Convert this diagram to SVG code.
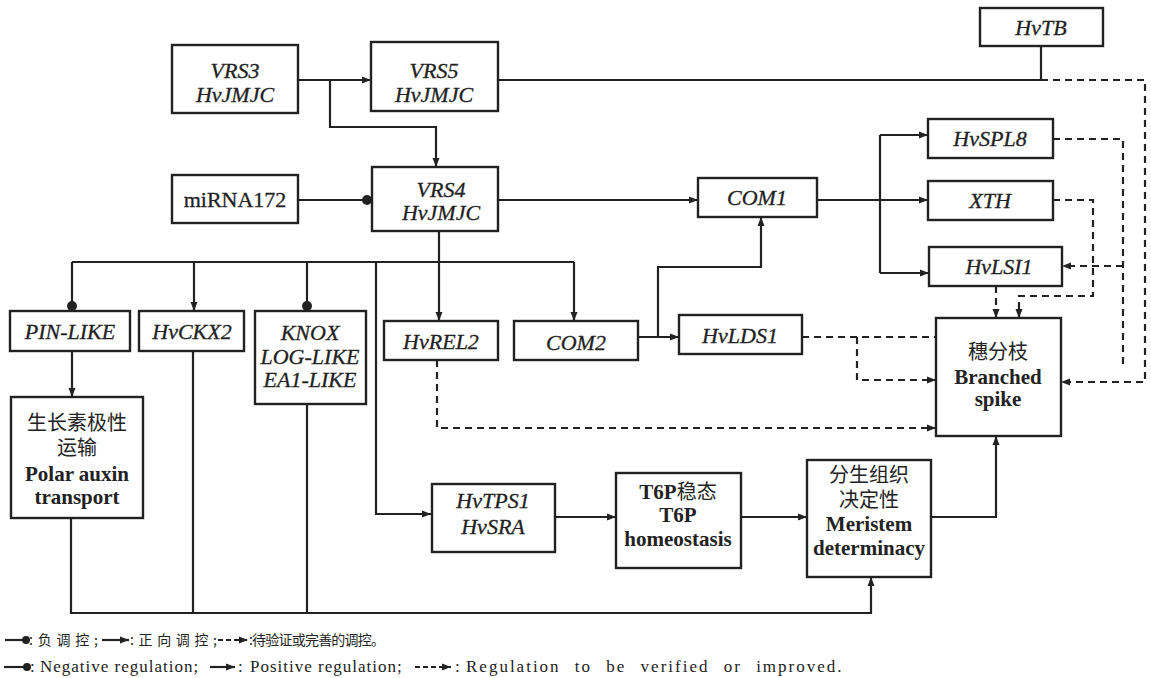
<svg xmlns="http://www.w3.org/2000/svg" width="1151" height="678" viewBox="0 0 1151 678">
<style>
.box{fill:#fff;stroke:#222;stroke-width:2.4}
.ln{fill:none;stroke:#222;stroke-width:2.2}
.ds{fill:none;stroke:#222;stroke-width:2.2;stroke-dasharray:7 5}
.g{font-family:'Liberation Serif',serif;font-style:italic;font-size:22px;text-anchor:middle;fill:#222;stroke:#222;stroke-width:0.3}
.r{font-family:'Liberation Serif',serif;font-size:22px;text-anchor:middle;fill:#222;stroke:#222;stroke-width:0.3}
.t{font-family:'Liberation Serif','Noto Sans CJK SC',serif;font-weight:bold;font-size:21px;text-anchor:middle;fill:#222}
.c{font-family:'Noto Sans CJK SC',sans-serif;font-size:20px;text-anchor:middle;fill:#222}
.cn{font-family:'Noto Sans CJK SC',sans-serif;font-weight:normal}
.lc{font-family:'Noto Sans CJK SC',sans-serif;font-size:14px;fill:#222}
.le{font-family:'Liberation Serif',serif;font-size:17px;letter-spacing:1px;fill:#222}
.dot{fill:#222}
</style>
<defs>
<marker id="ar" markerUnits="userSpaceOnUse" markerWidth="9" markerHeight="8" refX="9" refY="4" orient="auto">
<path d="M0,0.5 L9,4 L0,7.5 z" fill="#222"/>
</marker>
</defs>

<g id="connectors">
<path class="ln" d="M298,80 H371" marker-end="url(#ar)"/>
<path class="ln" d="M330,80 V127 H436 V167" marker-end="url(#ar)"/>
<path class="ln" d="M498,80 H1041"/>
<path class="ln" d="M1041,46 V80"/>
<path class="ds" d="M1041,80 H1145 V382 H1061" marker-end="url(#ar)"/>
<path class="ln" d="M298,200 H367"/>
<circle class="dot" cx="367" cy="200" r="5"/>
<path class="ln" d="M498,200 H698" marker-end="url(#ar)"/>
<path class="ln" d="M817,200 H928" marker-end="url(#ar)"/>
<path class="ln" d="M880,135 V273"/>
<path class="ln" d="M880,135 H928" marker-end="url(#ar)"/>
<path class="ln" d="M880,273 H929" marker-end="url(#ar)"/>
<path class="ln" d="M439,231 V321" marker-end="url(#ar)"/>
<path class="ln" d="M72,262 H574"/>
<path class="ln" d="M72,262 V306"/>
<circle class="dot" cx="72" cy="306" r="5"/>
<path class="ln" d="M194,262 V311" marker-end="url(#ar)"/>
<path class="ln" d="M307,262 V306"/>
<circle class="dot" cx="307" cy="306" r="5"/>
<path class="ln" d="M574,262 V321" marker-end="url(#ar)"/>
<path class="ln" d="M376,262 V514 H431" marker-end="url(#ar)"/>
<path class="ln" d="M72,351 V397" marker-end="url(#ar)"/>
<path class="ln" d="M71,518 V613 H871 V577" marker-end="url(#ar)"/>
<path class="ln" d="M193,351 V613"/>
<path class="ln" d="M307,404 V613"/>
<path class="ln" d="M638,337 H679" marker-end="url(#ar)"/>
<path class="ln" d="M658,337 V267 H761 V217" marker-end="url(#ar)"/>
<path class="ln" d="M555,517 H616" marker-end="url(#ar)"/>
<path class="ln" d="M741,517 H807" marker-end="url(#ar)"/>
<path class="ln" d="M931,517 H996 V436" marker-end="url(#ar)"/>
<path class="ds" d="M437,360 V428 H936" marker-end="url(#ar)"/>
<path class="ds" d="M802,337 H936"/>
<path class="ds" d="M857,337 V380 H936" marker-end="url(#ar)"/>
<path class="ds" d="M996,286 V318" marker-end="url(#ar)"/>
<path class="ds" d="M1053,200 H1093 V296 H1019 V318" marker-end="url(#ar)"/>
<path class="ds" d="M1053,139 H1123 V366"/>
<path class="ds" d="M1123,266 H1062" marker-end="url(#ar)"/>
</g>

<g id="VRS3"><rect class="box" x="172" y="45" width="126" height="68"/><text class="g" x="235" y="78">VRS3</text><text class="g" x="235" y="102">HvJMJC</text></g>
<g id="VRS5"><rect class="box" x="371" y="42" width="127" height="69"/><text class="g" x="434" y="78">VRS5</text><text class="g" x="434" y="102">HvJMJC</text></g>
<g id="HvTB"><rect class="box" x="980" y="8" width="123" height="38"/><text class="g" x="1041" y="35">HvTB</text></g>
<g id="miRNA172"><rect class="box" x="172" y="175" width="126" height="48"/><text class="r" x="235" y="207">miRNA172</text></g>
<g id="VRS4"><rect class="box" x="372" y="167" width="126" height="64"/><text class="g" x="441" y="197">VRS4</text><text class="g" x="441" y="220">HvJMJC</text></g>
<g id="COM1"><rect class="box" x="698" y="178" width="119" height="39"/><text class="g" x="757" y="205">COM1</text></g>
<g id="HvSPL8"><rect class="box" x="928" y="119" width="125" height="39"/><text class="g" x="990" y="146">HvSPL8</text></g>
<g id="XTH"><rect class="box" x="928" y="181" width="125" height="39"/><text class="g" x="990" y="208">XTH</text></g>
<g id="HvLSI1"><rect class="box" x="929" y="247" width="133" height="39"/><text class="g" x="999" y="274">HvLSI1</text></g>
<g id="PIN-LIKE"><rect class="box" x="10" y="311" width="120" height="40"/><text class="g" x="70" y="339">PIN-LIKE</text></g>
<g id="HvCKX2"><rect class="box" x="139" y="311" width="105" height="40"/><text class="g" x="192" y="339">HvCKX2</text></g>
<g id="KNOX"><rect class="box" x="255" y="311" width="111" height="93"/><text class="g" x="310" y="340">KNOX</text><text class="g" x="310" y="364">LOG-LIKE</text><text class="g" x="310" y="387">EA1-LIKE</text></g>
<g id="HvREL2"><rect class="box" x="384" y="321" width="114" height="39"/><text class="g" x="441" y="349">HvREL2</text></g>
<g id="COM2"><rect class="box" x="514" y="321" width="124" height="39"/><text class="g" x="576" y="350">COM2</text></g>
<g id="HvLDS1"><rect class="box" x="679" y="315" width="123" height="39"/><text class="g" x="740" y="343">HvLDS1</text></g>
<g id="BranchedSpike"><rect class="box" x="936" y="318" width="125" height="118"/><text class="c" x="998" y="359">穗分枝</text><text class="t" x="998" y="384">Branched</text><text class="t" x="998" y="406">spike</text></g>
<g id="Auxin"><rect class="box" x="11" y="397" width="132" height="121"/><text class="c" x="77" y="430">生长素极性</text><text class="c" x="77" y="455">运输</text><text class="t" x="77" y="481">Polar auxin</text><text class="t" x="77" y="504">transport</text></g>
<g id="HvTPS1"><rect class="box" x="432" y="484" width="123" height="68"/><text class="g" x="493" y="508">HvTPS1</text><text class="g" x="493" y="534">HvSRA</text></g>
<g id="T6P"><rect class="box" x="616" y="473" width="125" height="95"/><text class="t" x="678" y="499">T6P<tspan class="cn" style="font-size:20px">稳态</tspan></text><text class="t" x="678" y="522">T6P</text><text class="t" x="678" y="546">homeostasis</text></g>
<g id="Meristem"><rect class="box" x="807" y="460" width="124" height="117"/><text class="c" x="869" y="482">分生组织</text><text class="c" x="869" y="507">决定性</text><text class="t" x="869" y="531">Meristem</text><text class="t" x="869" y="555">determinacy</text></g>

<g id="legend">
<path class="ln" d="M5,640 H26"/><circle class="dot" cx="26" cy="640" r="4"/>
<text class="lc" x="29" y="645" textLength="69" lengthAdjust="spacing">:负调控;</text>
<path class="ln" d="M102,640 H129" marker-end="url(#ar)"/>
<text class="lc" x="130" y="645" textLength="87" lengthAdjust="spacing">:正向调控;</text>
<path class="ds" d="M218,640 H248" style="stroke-dasharray:5 3" marker-end="url(#ar)"/>
<text class="lc" x="249" y="645" textLength="136" lengthAdjust="spacing">:待验证或完善的调控。</text>
<path class="ln" d="M4,667 H27"/><circle class="dot" cx="27" cy="667" r="4"/>
<text class="le" x="30" y="672">:</text>
<text class="le" x="40" y="672">Negative regulation;</text>
<path class="ln" d="M210,667 H235" marker-end="url(#ar)"/>
<text class="le" x="238" y="672">:</text>
<text class="le" x="250" y="672">Positive regulation;</text>
<path class="ds" d="M415,667 H451" style="stroke-dasharray:5 3" marker-end="url(#ar)"/>
<text class="le" x="455" y="672">:</text>
<text class="le" x="466" y="672" style="letter-spacing:2px;word-spacing:8px">Regulation to be verified or improved.</text>
</g>
</svg>
